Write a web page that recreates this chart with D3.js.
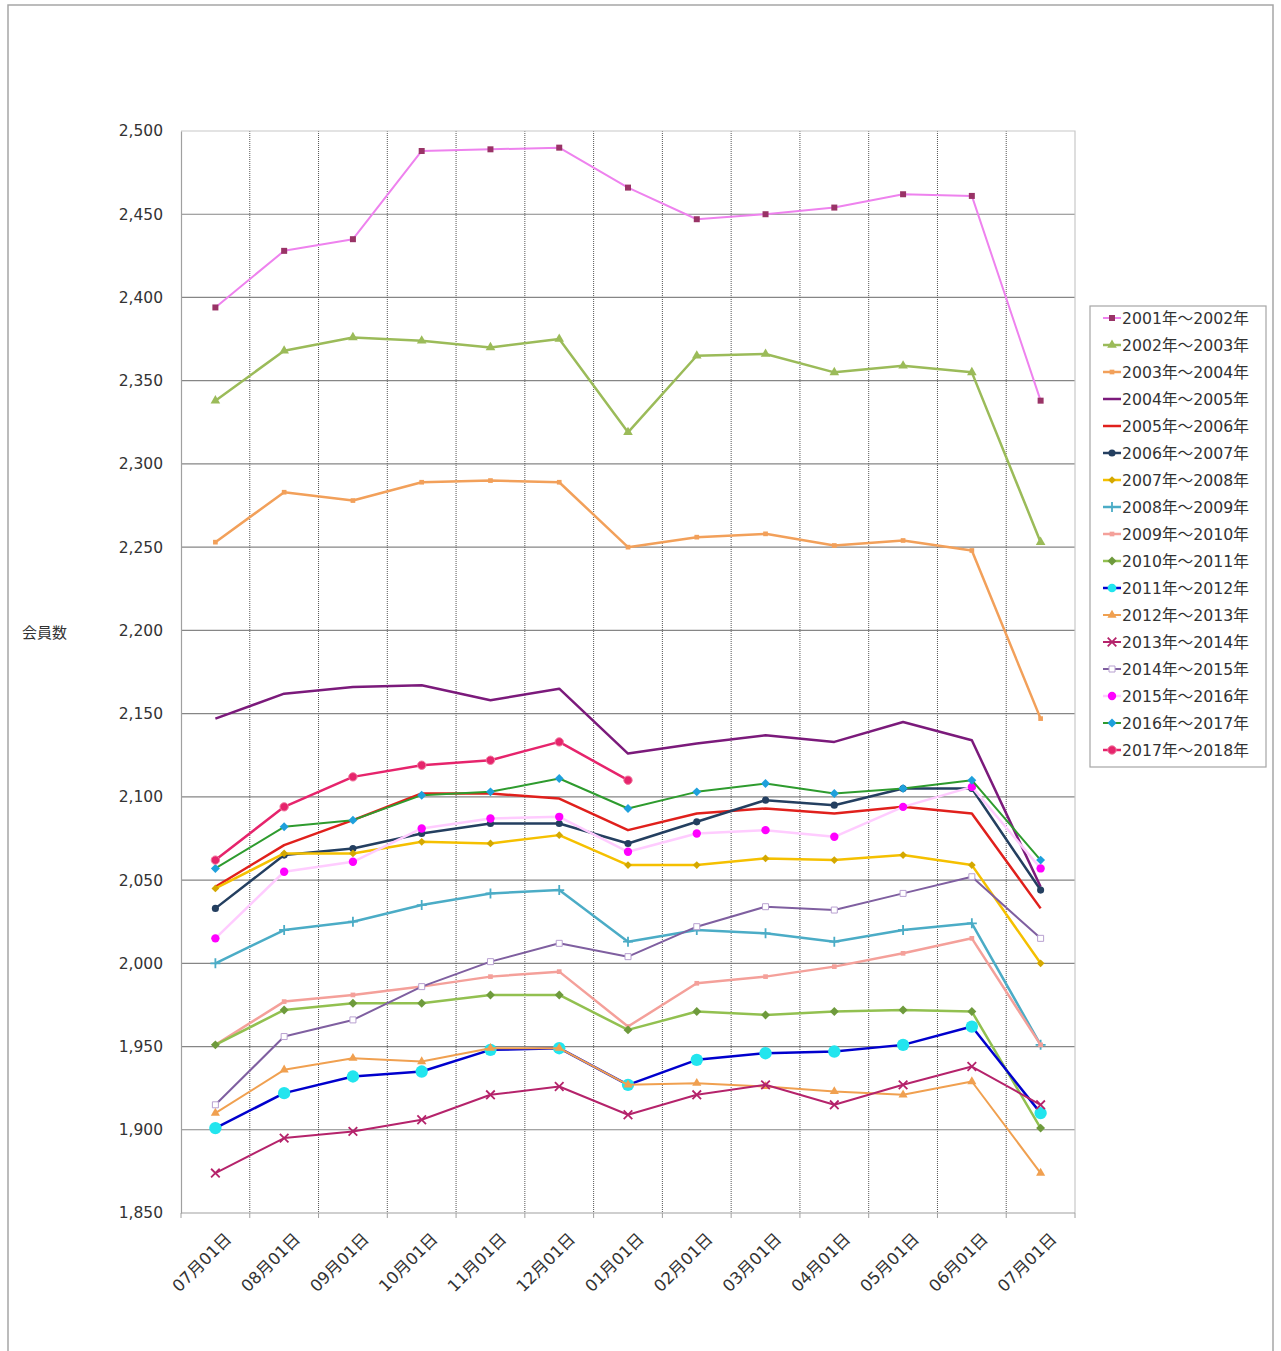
<!DOCTYPE html>
<html><head><meta charset="utf-8">
<script src="https://cdn.jsdelivr.net/npm/d3@7"></script>
<style>
body{margin:0;background:#fff}
text{font-family:"DejaVu Sans","Noto Sans CJK JP",sans-serif;fill:#333}
</style>
</head><body>
<svg id="chart" width="1281" height="1351"></svg>
<script>
// ---------- DATA ----------
const categories = ["07月01日","08月01日","09月01日","10月01日","11月01日","12月01日","01月01日","02月01日","03月01日","04月01日","05月01日","06月01日","07月01日"];
const yTickValues = [1850,1900,1950,2000,2050,2100,2150,2200,2250,2300,2350,2400,2450,2500];
const yLabel = "会員数";
const seriesNames = ["2001年～2002年","2002年～2003年","2003年～2004年","2004年～2005年","2005年～2006年","2006年～2007年","2007年～2008年","2008年～2009年","2009年～2010年","2010年～2011年","2011年～2012年","2012年～2013年","2013年～2014年","2014年～2015年","2015年～2016年","2016年～2017年","2017年～2018年"];
const v2001 = [2394,2428,2435,2488,2489,2490,2466,2447,2450,2454,2462,2461,2338];
const v2002 = [2338,2368,2376,2374,2370,2375,2319,2365,2366,2355,2359,2355,2253];
const v2003 = [2253,2283,2278,2289,2290,2289,2250,2256,2258,2251,2254,2248,2147];
const v2004 = [2147,2162,2166,2167,2158,2165,2126,2132,2137,2133,2145,2134,2046];
const v2005 = [2046,2071,2086,2102,2102,2099,2080,2090,2093,2090,2094,2090,2033];
const v2006 = [2033,2065,2069,2078,2084,2084,2072,2085,2098,2095,2105,2105,2044];
const v2007 = [2045,2066,2066,2073,2072,2077,2059,2059,2063,2062,2065,2059,2000];
const v2008 = [2000,2020,2025,2035,2042,2044,2013,2020,2018,2013,2020,2024,1951];
const v2009 = [1951,1977,1981,1986,1992,1995,1962,1988,1992,1998,2006,2015,1951];
const v2010 = [1951,1972,1976,1976,1981,1981,1960,1971,1969,1971,1972,1971,1901];
const v2011 = [1901,1922,1932,1935,1948,1949,1927,1942,1946,1947,1951,1962,1910];
const v2012 = [1910,1936,1943,1941,1949,1949,1927,1928,1926,1923,1921,1929,1874];
const v2013 = [1874,1895,1899,1906,1921,1926,1909,1921,1927,1915,1927,1938,1915];
const v2014 = [1915,1956,1966,1986,2001,2012,2004,2022,2034,2032,2042,2052,2015];
const v2015 = [2015,2055,2061,2081,2087,2088,2067,2078,2080,2076,2094,2106,2057];
const v2016 = [2057,2082,2086,2101,2103,2111,2093,2103,2108,2102,2105,2110,2062];
const v2017 = [2062,2094,2112,2119,2122,2133,2110];
const seriesValues = [v2001,v2002,v2003,v2004,v2005,v2006,v2007,v2008,v2009,v2010,v2011,v2012,v2013,v2014,v2015,v2016,v2017];

// ---------- STYLES ----------
const styles = [
  {line:"#EE82EE", w:2,   sym:"square",   size:36, fill:"#993366", stroke:"none"},
  {line:"#9BBB59", w:2.5, sym:"triangle", size:40, fill:"#9BBB59", stroke:"none"},
  {line:"#F2A05A", w:2.5, sym:"square",   size:22, fill:"#F2A05A", stroke:"none"},
  {line:"#7B1A7B", w:2.5, sym:"none"},
  {line:"#E0201C", w:2.5, sym:"none"},
  {line:"#243F60", w:2.5, sym:"circle",   size:40, fill:"#243F60", stroke:"none"},
  {line:"#F5C000", w:2.5, sym:"diamond",  size:30, fill:"#D4A800", stroke:"none"},
  {line:"#4BACC6", w:2.5, sym:"plus",     size:10, fill:"none", stroke:"#4BACC6"},
  {line:"#F4A09A", w:2.5, sym:"square",   size:22, fill:"#F4A09A", stroke:"none"},
  {line:"#92C050", w:2.5, sym:"diamond",  size:40, fill:"#6E9A3C", stroke:"none"},
  {line:"#0000CD", w:2.5, sym:"circle",   size:120, fill:"#22E5EE", stroke:"none"},
  {line:"#F0A050", w:2,   sym:"triangle", size:36, fill:"#F0A050", stroke:"none"},
  {line:"#B5236B", w:2,   sym:"times",    size:50, fill:"none", stroke:"#B5236B"},
  {line:"#7F5FA0", w:2,   sym:"square",   size:36, fill:"#fff", stroke:"#B8A0D0"},
  {line:"#FFCCFF", w:2.5, sym:"circle",   size:55, fill:"#FF00FF", stroke:"none"},
  {line:"#2E9B2E", w:2,   sym:"diamond",  size:40, fill:"#1EA0DC", stroke:"none"},
  {line:"#E6246C", w:2.5, sym:"circle",   size:55, fill:"#E6246C", stroke:"#F07AA0"}
];

// ---------- LAYOUT ----------
const svg = d3.select("#chart");
const plot = {left:181, right:1075, top:131, bottom:1213};

svg.append("rect").attr("x",8).attr("y",5).attr("width",1265).attr("height",1360)
  .attr("fill","#fff").attr("stroke","#A6A6A6").attr("stroke-width",1.5);

const x = d3.scaleBand().domain(d3.range(categories.length)).range([plot.left, plot.right]).padding(0);
const y = d3.scaleLinear().domain([1850,2500]).range([plot.bottom, plot.top]);
const cx = i => x(i) + x.bandwidth()/2;

// horizontal gridlines
svg.append("g").selectAll("line").data(yTickValues.filter(v=>v>1850 && v<2500)).join("line")
  .attr("x1",plot.left).attr("x2",plot.right).attr("y1",d=>y(d)).attr("y2",d=>y(d))
  .attr("stroke","#868686").attr("stroke-width",1.2);
// vertical dotted gridlines at band boundaries
svg.append("g").selectAll("line").data(d3.range(1,categories.length)).join("line")
  .attr("x1",d=>x(d)).attr("x2",d=>x(d)).attr("y1",plot.top).attr("y2",plot.bottom)
  .attr("stroke","#555").attr("stroke-width",1).attr("stroke-dasharray","1,1");
// plot border top/right
svg.append("path").attr("d",`M${plot.left},${plot.top}H${plot.right}V${plot.bottom}`)
  .attr("fill","none").attr("stroke","#C8C8C8").attr("stroke-width",1.2);

// y axis
const yAxis = d3.axisLeft(y).tickValues(yTickValues).tickFormat(d3.format(",")).tickSize(0).tickPadding(18);
const gy = svg.append("g").attr("transform",`translate(${plot.left},0)`).call(yAxis);
gy.select(".domain").attr("stroke","#A0A0A0").attr("stroke-width",1.2);
gy.selectAll("text").attr("font-size",15.5).attr("fill","#333").style("font-family","'DejaVu Sans',sans-serif");

// x axis: ticks at band boundaries
svg.append("line").attr("x1",plot.left).attr("x2",plot.right).attr("y1",plot.bottom).attr("y2",plot.bottom)
  .attr("stroke","#A0A0A0").attr("stroke-width",1.2);
svg.append("g").selectAll("line").data(d3.range(0,categories.length+1)).join("line")
  .attr("x1",d=>plot.left + d*x.step()).attr("x2",d=>plot.left + d*x.step())
  .attr("y1",plot.bottom).attr("y2",plot.bottom+5).attr("stroke","#A0A0A0");
const xAxis = d3.axisBottom(x).tickFormat(i=>categories[i]).tickSize(0);
const gx = svg.append("g").attr("transform",`translate(0,${plot.bottom})`).call(xAxis);
gx.select(".domain").remove();
gx.selectAll("text").attr("font-size",16.5).attr("fill","#333")
  .attr("text-anchor","end").attr("dy",0).attr("y",0)
  .attr("transform","translate(17,27) rotate(-45)");

// y label
svg.append("text").attr("x",22).attr("y",638).attr("font-size",15).text(yLabel);

// symbols
function symPath(name, size){
  if(name==="plus"){ const s=size/2; return `M${-s},0H${s}M0,${-s}V${s}`; }
  if(name==="diamond"){ const s=Math.sqrt(size)/Math.SQRT2*1.0; const r=Math.sqrt(size)/Math.sqrt(2)*1.0;
    return `M0,${-r}L${r},0L0,${r}L${-r},0Z`; }
  const map = {square:d3.symbolSquare, triangle:d3.symbolTriangle, circle:d3.symbolCircle,
    cross:d3.symbolCross, times:d3.symbolTimes||d3.symbolCross, star:d3.symbolStar};
  return d3.symbol().type(map[name]).size(size)();
}

// series
const line = d3.line().x((d,i)=>cx(i)).y(d=>y(d));
seriesValues.forEach((vals, si)=>{
  const st = styles[si];
  const g = svg.append("g");
  g.append("path").attr("d", line(vals)).attr("fill","none").attr("stroke",st.line)
    .attr("stroke-width",st.w).attr("stroke-linejoin","round");
  if(st.sym!=="none"){
    g.selectAll("path.m").data(vals).join("path").attr("class","m")
      .attr("d", symPath(st.sym, st.size))
      .attr("transform",(d,i)=>`translate(${cx(i)},${y(d)})`)
      .attr("fill",st.fill).attr("stroke",st.stroke)
      .attr("stroke-width",(st.sym==="times"||st.sym==="plus")?1.8:1);
  }
});

// legend
const lg = svg.append("g");
lg.append("rect").attr("x",1090).attr("y",306).attr("width",176).attr("height",461)
  .attr("fill","#fff").attr("stroke","#A6A6A6").attr("stroke-width",1.2);
seriesNames.forEach((name, i)=>{
  const st = styles[i];
  const yy = 318 + i*27;
  lg.append("line").attr("x1",1103).attr("x2",1121).attr("y1",yy).attr("y2",yy)
    .attr("stroke",st.line).attr("stroke-width",st.w);
  if(st.sym!=="none"){
    lg.append("path").attr("d",symPath(st.sym, Math.min(st.size,60)))
      .attr("transform",`translate(1112,${yy})`).attr("fill",st.fill).attr("stroke",st.stroke)
      .attr("stroke-width",(st.sym==="times"||st.sym==="plus")?1.8:1);
  }
  lg.append("text").attr("x",1122).attr("y",yy+5.5).attr("font-size",15.7).text(name);
});
</script>
</body></html>
